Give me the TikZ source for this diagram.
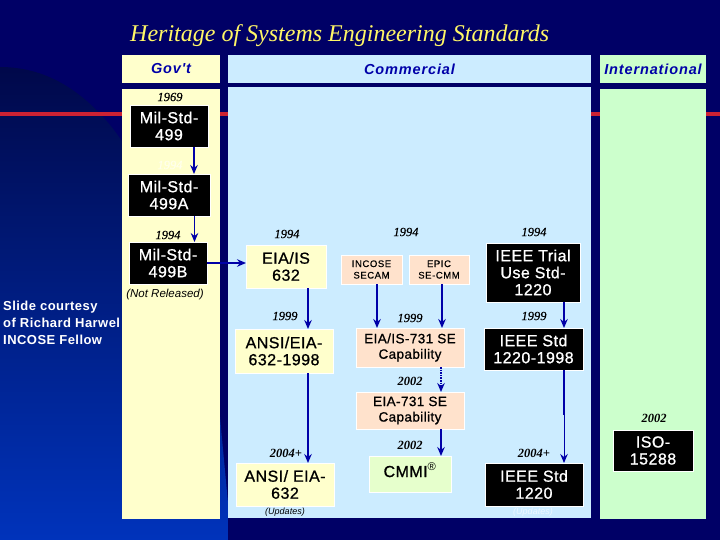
\documentclass[tikz,border=0pt]{standalone}
\usepackage{fontspec}
\usetikzlibrary{arrows.meta}
\setmainfont{Liberation Serif}
\setsansfont{Liberation Sans}
\newfontfamily\labfont[FakeBold=0.9,LetterSpace=3]{Liberation Sans}
\newfontfamily\headfont[LetterSpace=6]{Liberation Sans}
\newfontfamily\smallfont[FakeBold=0.3,LetterSpace=6]{Liberation Sans}
\newfontfamily\yearfont[FakeBold=0.5]{Liberation Serif}
\newfontfamily\courtfont[LetterSpace=3.5]{Liberation Sans}
\definecolor{navybg}{HTML}{000066}
\definecolor{swooshtop}{HTML}{00084A}
\definecolor{swooshmid}{HTML}{0026A0}
\definecolor{swooshbot}{HTML}{0033BB}
\definecolor{govcol}{HTML}{FFFFCC}
\definecolor{comcol}{HTML}{CCECFF}
\definecolor{intcol}{HTML}{CCFFCC}
\definecolor{peach}{HTML}{FFE2CC}
\definecolor{cmmicol}{HTML}{E6FFCC}
\definecolor{linecol}{HTML}{0000A8}
\definecolor{redline}{HTML}{CC2233}
\tikzset{
  panelbox/.style={draw=none,inner sep=0pt,outer sep=0pt},
  headtext/.style={font=\headfont\bfseries\itshape\fontsize{14.5}{16}\selectfont,text=linecol},
  stdbox/.style={inner sep=0pt,outer sep=0pt,align=center,line width=0.6pt,draw=white,
    font=\labfont\fontsize{16}{17}\selectfont},
  blackbox/.style={stdbox,fill=black,text=white},
  yellowbox/.style={stdbox,fill=govcol,text=black},
  peachbox/.style={stdbox,fill=peach,text=black,font=\labfont\fontsize{13.5}{15.5}\selectfont},
  tinybox/.style={stdbox,fill=peach,text=black,font=\smallfont\fontsize{9.5}{11.5}\selectfont},
  cmmibox/.style={stdbox,fill=cmmicol,text=black},
  yeartext/.style={font=\yearfont\itshape\fontsize{12.5}{14}\selectfont,text=black,inner sep=0pt},
  yearbold/.style={font=\bfseries\itshape\fontsize{12.5}{14}\selectfont,text=black,inner sep=0pt},
  notetext/.style={font=\sffamily\itshape\fontsize{9}{11}\selectfont,text=black,inner sep=0pt},
  flow/.style={draw=linecol,line width=1.6pt,-{Stealth[length=9pt,width=7.5pt,inset=3pt]}},
  flowdot/.style={flow,densely dotted},
  flowthin/.style={draw=linecol,line width=0.9pt,-{Stealth[length=9pt,width=7.5pt,inset=3pt]}}
}
\begin{document}
\begin{tikzpicture}[x=1pt,y=-1pt]
\useasboundingbox (0,0) rectangle (720,540);
\fill[navybg] (0,0) rectangle (720,540);
% blue swoosh
\shade[top color=swooshtop,middle color=swooshmid,bottom color=swooshbot,shading angle=0]
  (0,67) .. controls (50,67) and (85,95) .. (110,125)
  .. controls (170,200) and (205,330) .. (220,417) -- (228,503) -- (228,540) -- (0,540) -- cycle;
% red line
\fill[redline] (0,112.5) rectangle (720,116);
% panels
\node[panelbox,fill=govcol,minimum width=98pt,minimum height=28pt,headtext] (hgov) at (171,69) {Gov't};
\node[panelbox,fill=comcol,minimum width=363pt,minimum height=28pt,headtext] (hcom) at (409.5,69) {Commercial};
\node[panelbox,fill=intcol,minimum width=106pt,minimum height=28pt,headtext] (hint) at (653,69) {International};
\node[panelbox,fill=govcol,minimum width=98pt,minimum height=430pt] (pgov) at (171,304) {};
\node[panelbox,fill=comcol,minimum width=363pt,minimum height=431pt] (pcom) at (409.5,302.5) {};
\node[panelbox,fill=intcol,minimum width=106pt,minimum height=430pt] (pint) at (653,304) {};
% title
\node[font=\itshape\fontsize{24}{26}\selectfont,text=yellow!60!white,inner sep=0pt,anchor=base west] (title) at (130,42) {Heritage of Systems Engineering Standards};
% courtesy
\node[font=\courtfont\bfseries\fontsize{13}{17}\selectfont,text=white,align=left,inner sep=0pt,anchor=west] (courtesy) at (3,323) {Slide courtesy\\of Richard Harwel\\INCOSE Fellow};
% boxes
\node[blackbox,minimum width=78pt,minimum height=42pt] (m499) at (169,126) {Mil-Std-\\499};
\node[blackbox,minimum width=82pt,minimum height=42pt] (m499a) at (169,195) {Mil-Std-\\499A};
\node[blackbox,minimum width=78pt,minimum height=42pt] (m499b) at (168,263) {Mil-Std-\\499B};
\node[yellowbox,minimum width=80pt,minimum height=43pt] (eia) at (286,266.5) {EIA/IS\\632};
\node[yellowbox,minimum width=98pt,minimum height=44pt] (ansi98) at (284,351) {ANSI/EIA-\\632-1998};
\node[yellowbox,minimum width=98pt,minimum height=43pt] (ansi) at (285,484.5) {ANSI/ EIA-\\632};
\node[tinybox,minimum width=61pt,minimum height=29pt] (incose) at (371.5,269.5) {INCOSE\\SECAM};
\node[tinybox,minimum width=60pt,minimum height=29pt] (epic) at (439,269.5) {EPIC\\SE-CMM};
\node[peachbox,minimum width=108pt,minimum height=39pt] (is731) at (410,347.5) {EIA/IS-731 SE\\Capability};
\node[peachbox,minimum width=108pt,minimum height=37pt] (e731) at (410,410.5) {EIA-731 SE\\Capability};
\node[cmmibox,minimum width=82pt,minimum height=36pt,text depth=8pt] (cmmi) at (410,474) {CMMI\textsuperscript{\normalfont\sffamily ®}};
\node[blackbox,minimum width=94pt,minimum height=59pt] (trial) at (533,272.5) {IEEE Trial\\Use Std-\\1220};
\node[blackbox,minimum width=99pt,minimum height=42pt] (std98) at (533.5,349) {IEEE Std\\1220-1998};
\node[blackbox,minimum width=98pt,minimum height=43pt] (std) at (534,484.5) {IEEE Std\\1220};
\node[blackbox,minimum width=80pt,minimum height=41pt] (iso) at (653,450.5) {ISO-\\15288};
% years
\node[yeartext] (y1) at (170,97) {1969};
\node[yeartext,text=govcol!40!white] (y2) at (170,165) {1994};
\node[yeartext] (y3) at (168,235) {1994};
\node[yeartext] (y4) at (287,234) {1994};
\node[yeartext] (y5) at (406,232) {1994};
\node[yeartext] (y6) at (534,232) {1994};
\node[yeartext] (y7) at (285,316) {1999};
\node[yeartext] (y8) at (410,318) {1999};
\node[yeartext] (y9) at (534,316) {1999};
\node[yearbold] (y10) at (410,381) {2002};
\node[yearbold] (y11) at (410,445) {2002};
\node[yearbold] (y12) at (286,453) {2004+};
\node[yearbold] (y13) at (534,453) {2004+};
\node[yearbold] (y14) at (654,418) {2002};
% notes
\node[notetext,font=\sffamily\itshape\fontsize{11.5}{13}\selectfont] (nr) at (165,295) {(Not Released)};
\node[notetext] (up1) at (285,512) {(Updates)};
\node[notetext,text=comcol!35!white] (up2) at (533,512) {(Updates)};
% connectors
\draw[flowthin,line width=1.3pt] (m499.south -| 194,0) -- (m499a.north -| 194,0);
\draw[flowthin,line width=1.3pt] (m499a.south -| 194.5,0) -- (m499b.north -| 194.5,0);
\draw[flow] (m499b.east) -- (eia.west |- m499b.east);
\draw[flow] (eia.south -| 308,0) -- (ansi98.north -| 308,0);
\draw[flow] (ansi98.south -| 308,0) -- (ansi.north -| 308,0);
\draw[flow] (incose.south -| 377,0) -- (is731.north -| 377,0);
\draw[flow] (epic.south -| 442,0) -- (is731.north -| 442,0);
\draw[flowdot] (is731.south -| 441,0) -- (e731.north -| 441,0);
\draw[flow] (e731.south -| 441,0) -- (cmmi.north -| 441,0);
\draw[flow] (trial.south -| 564,0) -- (std98.north -| 564,0);
\draw[flowthin] (std98.south -| 564,0) -- (std.north -| 564,0);
\coordinate (thinstart) at (std98.south -| 564,0);
\draw[linecol,line width=1.6pt] (thinstart) -- ++(0,45);
\end{tikzpicture}
\end{document}
